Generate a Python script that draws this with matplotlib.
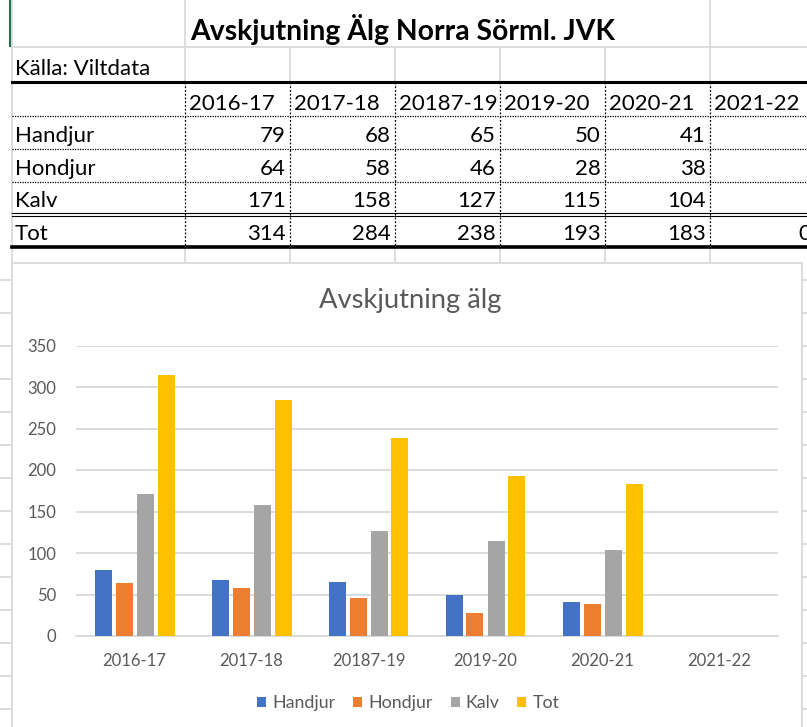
import numpy as np
import matplotlib
matplotlib.use("Agg")
import matplotlib.pyplot as plt
from matplotlib.patches import Rectangle

# ---------------- data ----------------
seasons = ["2016-17", "2017-18", "20187-19", "2019-20", "2020-21", "2021-22"]
handjur = [79, 68, 65, 50, 41, None]
hondjur = [64, 58, 46, 28, 38, None]
kalv = [171, 158, 127, 115, 104, None]
tot = [314, 284, 238, 193, 183, 0]
series_names = ["Handjur", "Hondjur", "Kalv", "Tot"]
sheet_title = "Avskjutning Älg Norra Sörml. JVK"
source_text = "Källa: Viltdata"
chart_title = "Avskjutning älg"
yticks = [0, 50, 100, 150, 200, 250, 300, 350]

colors = ["#4472C4", "#ED7D31", "#A5A5A5", "#FFC000"]
series = [handjur, hondjur, kalv, tot]

W, H = 807, 727
FONT = "Lato"
plt.rcParams["font.family"] = [FONT, "DejaVu Sans"]

fig = plt.figure(figsize=(W / 100, H / 100), dpi=100)
fig.patch.set_facecolor("white")

# overlay axes in pixel coordinates for the spreadsheet part
sh = fig.add_axes([0, 0, 1, 1])
sh.set_xlim(0, W)
sh.set_ylim(H, 0)
sh.axis("off")

grid_c = "#dadada"
col_edges = [185, 290, 395, 500, 605, 710, 815]

# light spreadsheet gridlines
sh.plot([12, W], [47, 47], color=grid_c, lw=1.3, zorder=1)
for y in range(280, H + 40, 33):
    sh.plot([0, W], [y, y], color=grid_c, lw=1.3, zorder=1)
for x in col_edges:
    if x in (185, 710):
        sh.plot([x, x], [0, 82], color=grid_c, lw=1.3, zorder=1)
    else:
        sh.plot([x, x], [47, 82], color=grid_c, lw=1.3, zorder=1)
    sh.plot([x, x], [247, H], color=grid_c, lw=1.3, zorder=1)
sh.plot([12, 12], [0, H], color=grid_c, lw=1.3, zorder=1)
sh.plot([10, 10], [0, 46], color="#217346", lw=1.5, zorder=2)

# table borders
sh.plot([12, W], [82, 82], color="black", lw=2.2, zorder=3)
for y in (116, 149, 182):
    sh.plot([12, W], [y, y], color="black", lw=0.9, ls=(0, (1, 1)), zorder=3)
for x in col_edges:
    sh.plot([x, x], [82, 247], color="black", lw=0.9, ls=(0, (1.5, 1.5)), zorder=3)
sh.plot([12, W], [212.5, 212.5], color="black", lw=0.8, zorder=3)
sh.plot([12, W], [215.5, 215.5], color="black", lw=0.8, zorder=3)
sh.plot([12, W], [247, 247], color="black", lw=2.6, zorder=3)

# table text
tfs = 16
sh.text(190, 40, sheet_title, fontsize=20.4, fontweight="bold", color="black",
        ha="left", va="baseline", zorder=4)
sh.text(15, 75, source_text, fontsize=tfs, color="black", ha="left", va="baseline", zorder=4)
for i, s in enumerate(seasons):
    sh.text(col_edges[i] + 4, 110, s, fontsize=tfs, color="black",
            ha="left", va="baseline", zorder=4)
row_base = [142, 175, 207, 240]
for name, vals, yb in zip(series_names, series, row_base):
    sh.text(15, yb, name, fontsize=tfs, color="black", ha="left", va="baseline", zorder=4)
    for i, v in enumerate(vals):
        if v is None:
            continue
        sh.text(col_edges[i + 1] - 4, yb, str(v), fontsize=tfs, color="black",
                ha="right", va="baseline", zorder=4)

# chart frame
sh.add_patch(Rectangle((12, 263), 802 - 12, H + 20 - 263, facecolor="white",
                       edgecolor="#d9d9d9", lw=1.3, zorder=5))

# ---------------- chart ----------------
left, right, bottom, top = 76, 778, 636, 345.5
ax = fig.add_axes([left / W, (H - bottom) / H, (right - left) / W, (bottom - top) / H])
ax.set_zorder(10)
ax.patch.set_alpha(0)

x = np.arange(len(seasons))
step = 21 / 117
bw = 17 / 117
for k, (name, vals, c) in enumerate(zip(series_names, series, colors)):
    v = [np.nan if a is None else a for a in vals]
    ax.bar(x + (k - 1.5) * step, v, width=bw, color=c, label=name, zorder=3)

ax.set_xlim(-0.5, len(seasons) - 0.5)
ax.set_ylim(0, 350)
ax.set_yticks(yticks)
ax.set_xticks(x)
ax.set_xticklabels(seasons)
ax.yaxis.grid(True, color="#d9d9d9", lw=1.3, zorder=0)
ax.set_axisbelow(True)
for s in ("top", "right", "left"):
    ax.spines[s].set_visible(False)
ax.spines["bottom"].set_color("#d9d9d9")
ax.spines["bottom"].set_linewidth(1.3)
txt_c = "#595959"
ax.tick_params(axis="both", length=0, labelsize=12, labelcolor=txt_c)
ax.tick_params(axis="y", pad=14)
ax.tick_params(axis="x", pad=12)

fig.text(410 / W, 1 - 308 / H, chart_title, fontsize=19.7, color=txt_c,
         ha="center", va="baseline", zorder=12)

leg = fig.legend(loc="center", bbox_to_anchor=(408.5 / W, 1 - 703 / H), ncol=4,
                 frameon=False, fontsize=12.8, handlelength=0.5, handleheight=0.5,
                 handletextpad=0.35, columnspacing=1.0, labelcolor=txt_c)
leg.set_zorder(12)

fig.savefig("out.png", dpi=100, facecolor="white")
